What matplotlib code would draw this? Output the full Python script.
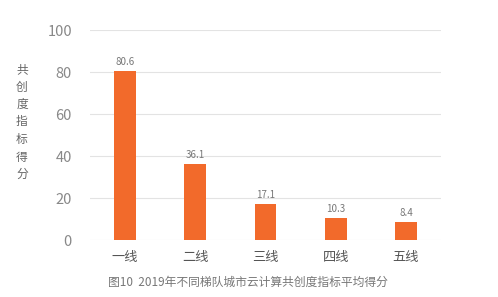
import matplotlib
matplotlib.use("Agg")
import matplotlib.pyplot as plt

plt.rcParams['font.family'] = ['Noto Sans CJK SC', 'DejaVu Sans']

categories = ['一线', '二线', '三线', '四线', '五线']
values = [80.6, 36.1, 17.1, 10.3, 8.4]
yticks = [0, 20, 40, 60, 80, 100]
caption = '图10  2019年不同梯队城市云计算共创度指标平均得分'
ylabel = '共\n创\n度\n指\n标\n得\n分'

fig = plt.figure(figsize=(4.98, 2.97), dpi=100)
ax = fig.add_axes([0.1807, 0.1919, 0.7048, 0.707])
x = range(len(categories))
bars = ax.bar(x, values, width=0.31, color='#F26A2B', zorder=3)
for xi, v in zip(x, values):
    ax.text(xi, v + 2, f'{v}', ha='center', va='bottom', fontsize=7, color='#777777')

ax.set_xlim(-0.5, 4.5)
ax.set_ylim(0, 100)
ax.set_yticks(yticks)
ax.set_xticks(list(x))
ax.set_xticklabels(categories, fontsize=9.5, color='#555555')
ax.tick_params(axis='y', labelsize=10.5, labelcolor='#888888', length=0, pad=13)
ax.tick_params(axis='x', length=0, pad=8)
ax.grid(axis='y', color='#e3e3e3', linewidth=0.8, zorder=0)
for s in ax.spines.values():
    s.set_visible(False)

fig.text(22 / 498, 1 - 122 / 297, ylabel, ha='center', va='center', fontsize=8.5,
         color='#666666', linespacing=1.45)
fig.text(248 / 498, 1 - 282 / 297, caption, ha='center', va='center', fontsize=8.5,
         color='#777777')

fig.savefig('out.png', dpi=100)
